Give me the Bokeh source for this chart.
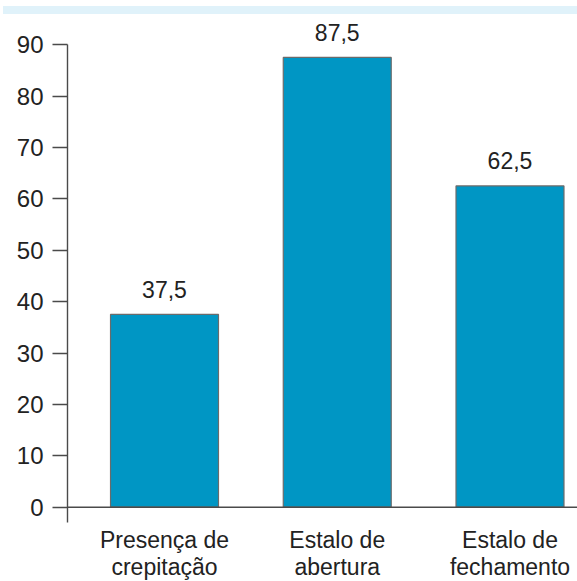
from bokeh.plotting import figure
from bokeh.models import Range1d, FixedTicker, Span, ColumnDataSource, Div
from bokeh.layouts import column
from bokeh.core.properties import value
from bokeh.embed import file_html
from bokeh.resources import INLINE

# Data
categories = ["Presença de crepitação", "Estalo de abertura", "Estalo de fechamento"]
label_line1 = ["Presença de", "Estalo de", "Estalo de"]
label_line2 = ["crepitação", "abertura", "fechamento"]
values = [37.5, 87.5, 62.5]
value_labels = ["37,5", "87,5", "62,5"]
y_ticks = [0, 10, 20, 30, 40, 50, 60, 70, 80, 90]

# Styling
FONT = "Liberation Sans"
TEXT_COLOR = "#222222"
AXIS_COLOR = "#4a4a4a"
BAR_COLOR = "#0096c4"
BAR_EDGE = "#6b6b6b"
BAND_COLOR = "#e0f2fa"

W, H = 577, 581
BAND_TOP, BAND_H = 6, 8
HEAD = BAND_TOP + BAND_H          # height taken by the header band
PLOT_H = H - HEAD
LEFT = 67
PX = 5.14                         # pixels per value unit
ZERO_Y = 506.7 - HEAD             # plot row of value 0

y_start = -(PLOT_H - ZERO_Y) / PX
y_end = ZERO_Y / PX

xs = [i + 1 for i in range(len(categories))]
bar_width = 0.625
STEP = 172.75
x_start = 1 - (164 - LEFT) / STEP
x_end = x_start + (W - LEFT) / STEP

band = Div(text="", width=W - 3, height=BAND_H, margin=(BAND_TOP, 0, 0, 3),
           styles={"background-color": BAND_COLOR})

p = figure(
    width=W, height=PLOT_H,
    x_range=Range1d(x_start, x_end),
    y_range=Range1d(y_start, y_end),
    x_axis_location=None,
    output_backend="svg",
    toolbar_location=None,
    min_border_left=LEFT, min_border_right=0,
    min_border_top=0, min_border_bottom=0,
    margin=(0, 0, 0, 0),
)
p.outline_line_color = None
p.background_fill_color = "white"
p.border_fill_color = "white"
p.xgrid.visible = False
p.ygrid.visible = False

ax = p.yaxis[0]
ax.ticker = FixedTicker(ticks=y_ticks)
ax.bounds = (-3, 90)
ax.axis_line_color = AXIS_COLOR
ax.axis_line_width = 1.4
ax.major_tick_line_color = AXIS_COLOR
ax.major_tick_line_width = 1.4
ax.major_tick_out = 15
ax.major_tick_in = 0
ax.minor_tick_line_color = None
ax.major_label_standoff = 9
ax.major_label_text_font = FONT
ax.major_label_text_font_size = "24px"
ax.major_label_text_color = TEXT_COLOR

src = ColumnDataSource(dict(
    x=xs, top=values, lab=value_labels,
    lab_y=[v + 25.0 / PX for v in values],
    l1=label_line1, l2=label_line2,
    l1_y=[-33.0 / PX] * len(xs), l2_y=[-59.5 / PX] * len(xs),
))

p.vbar(x="x", top="top", bottom=0, width=bar_width, source=src,
       fill_color=BAR_COLOR, line_color=BAR_EDGE, line_width=1.2)

# baseline at zero
p.add_layout(Span(location=0, dimension="width", line_color=AXIS_COLOR, line_width=1.4))

for col_y, col_t in (("lab_y", "lab"), ("l1_y", "l1"), ("l2_y", "l2")):
    p.text(x="x", y=col_y, text=col_t, source=src, text_align="center",
           text_baseline="alphabetic", text_font=value(FONT), text_font_size="23px",
           text_color=TEXT_COLOR)

layout = column(band, p, spacing=0, margin=(0, 0, 0, 0))
open("out.html", "w").write(file_html(layout, INLINE))
